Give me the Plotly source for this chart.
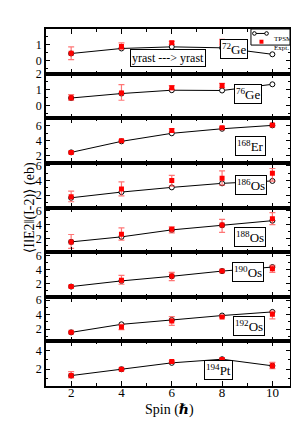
import plotly.graph_objects as go
from plotly.subplots import make_subplots

spin = [2, 4, 6, 8, 10]

labels = ["<sup>72</sup>Ge", "<sup>76</sup>Ge", "<sup>168</sup>Er", "<sup>186</sup>Os",
          "<sup>188</sup>Os", "<sup>190</sup>Os", "<sup>192</sup>Os", "<sup>194</sup>Pt"]

# TPSM values
tpsm_72ge = [0.44, 0.75, 0.85, 0.79, 0.39]
tpsm_76ge = [0.47, 0.75, 0.96, 0.94, 1.33]
tpsm_168er = [2.45, 3.92, 4.99, 5.60, 6.05]
tpsm_186os = [1.63, 2.41, 3.05, 3.60, 3.93]
tpsm_188os = [1.57, 2.29, 3.29, 3.95, 4.61]
tpsm_190os = [1.57, 2.39, 3.06, 3.81, 4.39]
tpsm_192os = [1.54, 2.65, 3.25, 3.86, 4.36]
tpsm_194pt = [1.32, 2.00, 2.69, 3.08, 2.37]

# Experimental values with upper / lower errors
expt_72ge = [0.45, 0.87, 1.10, 1.14, None]
errp_72ge = [0.40, 0.23, 0.09, 0.17, None]
errm_72ge = [0.39, 0.18, 0.10, 0.18, None]

expt_76ge = [0.48, 0.79, 1.12, 1.25, None]
errp_76ge = [0.21, 0.52, 0.13, 0.14, None]
errm_76ge = [0.15, 0.46, 0.12, 0.15, None]

expt_168er = [2.45, 4.00, 5.38, 5.73, 6.09]
errp_168er = [0.10, 0.12, 0.22, 0.15, 0.18]
errm_168er = [0.10, 0.12, 0.22, 0.15, 0.22]

expt_186os = [1.78, 2.82, 4.00, 4.31, 4.99]
errp_186os = [0.76, 0.98, 0.68, 1.00, 0.64]
errm_186os = [0.69, 0.92, 0.78, 0.95, 1.09]

expt_188os = [1.57, 2.67, 3.37, 4.00, 4.90]
errp_188os = [1.06, 0.90, 0.34, 0.80, 0.86]
errm_188os = [0.94, 0.86, 0.51, 1.06, 0.86]

expt_190os = [1.60, 2.49, 3.10, 3.81, 4.14]
errp_190os = [0.08, 0.71, 0.53, 0.10, 0.49]
errm_190os = [0.08, 0.58, 0.67, 0.10, 0.51]

expt_192os = [1.55, 2.28, 3.11, 3.67, 4.04]
errp_192os = [0.08, 0.37, 0.61, 0.10, 0.42]
errm_192os = [0.08, 0.36, 0.60, 0.10, 0.65]

expt_194pt = [1.32, 2.00, 2.83, 3.04, 2.37]
errp_194pt = [0.43, 0.15, 0.10, 0.08, 0.38]
errm_194pt = [0.24, 0.15, 0.10, 0.08, 0.29]

tpsm_all = [tpsm_72ge, tpsm_76ge, tpsm_168er, tpsm_186os, tpsm_188os, tpsm_190os, tpsm_192os, tpsm_194pt]
expt_all = [expt_72ge, expt_76ge, expt_168er, expt_186os, expt_188os, expt_190os, expt_192os, expt_194pt]
errp_all = [errp_72ge, errp_76ge, errp_168er, errp_186os, errp_188os, errp_190os, errp_192os, errp_194pt]
errm_all = [errm_72ge, errm_76ge, errm_168er, errm_186os, errm_188os, errm_190os, errm_192os, errm_194pt]

yranges = [[-0.8, 1.95], [-0.8, 2.0], [1.05, 7.0], [0.3, 6.4],
           [0.1, 6.5], [0.1, 6.55], [0.3, 6.45], [0.2, 5.0]]
ydticks = [1, 1, 2, 2, 2, 2, 2, 2]
label_pos = [(8.48, 0.32), (9.04, 0.32), (9.13, 0.38), (9.15, 0.28),
             (9.1, 0.34), (9.05, 0.32), (9.07, 0.34), (7.87, 0.35)]

FONT = "Liberation Serif, DejaVu Serif, DejaVu Sans"
n = 8
fig = make_subplots(rows=n, cols=1, shared_xaxes=True, vertical_spacing=0)

for i in range(n):
    r = i + 1
    fig.add_trace(go.Scatter(
        x=spin, y=tpsm_all[i], mode="lines+markers",
        line=dict(color="black", width=1),
        marker=dict(symbol="circle", size=5, color="white", line=dict(color="black", width=1)),
        showlegend=False, cliponaxis=False), row=r, col=1)
    fig.add_trace(go.Scatter(
        x=spin, y=expt_all[i], mode="markers",
        marker=dict(symbol="square", size=5, color="red"),
        error_y=dict(type="data", symmetric=False, array=errp_all[i], arrayminus=errm_all[i],
                     color="rgba(255,60,60,0.7)", thickness=1.2, width=3),
        showlegend=False), row=r, col=1)

    fig.update_yaxes(row=r, col=1, range=yranges[i], dtick=ydticks[i], tick0=0,
                     ticks="inside", ticklen=4, tickwidth=1, tickcolor="black",
                     minor=dict(ticks="inside", ticklen=2, dtick=ydticks[i] / 2, tickcolor="black"),
                     showline=True, linecolor="black", linewidth=1.5, mirror="allticks",
                     showgrid=False, zeroline=False,
                     tickfont=dict(family=FONT, size=12, color="black"))
    fig.update_xaxes(row=r, col=1, range=[1, 10.7], dtick=2, tick0=0,
                     ticks="inside", ticklen=5, tickwidth=1, tickcolor="black",
                     minor=dict(ticks="inside", ticklen=3, dtick=1, tickcolor="black"),
                     showline=True, linecolor="black", linewidth=1.5, mirror="allticks",
                     showgrid=False, zeroline=False, ticklabelstandoff=-6,
                     tickfont=dict(family=FONT, size=13, color="black"))

    xr = "x" if r == 1 else f"x{r}"
    yr = "y" if r == 1 else f"y{r}"
    lx, ly = label_pos[i]
    fig.add_annotation(x=lx, y=ly, xref=xr, yref=f"{yr} domain", text=labels[i],
                       showarrow=False, font=dict(family=FONT, size=13, color="black"),
                       bordercolor="black", borderwidth=1, borderpad=1, bgcolor="white")

# yrast label in top panel
fig.add_annotation(x=5.86, y=0.36, xref="x", yref="y domain", text="yrast ---> yrast",
                   showarrow=False, font=dict(family=FONT, size=12, color="black"),
                   bordercolor="black", borderwidth=1, borderpad=1, bgcolor="white")

# custom legend in top panel
fig.add_shape(type="rect", xref="x domain", yref="y domain", x0=0.84, x1=1.0, y0=0.64, y1=1.0,
              line=dict(color="black", width=1), fillcolor="white", layer="above")
fig.add_shape(type="line", xref="x domain", yref="y domain", x0=0.854, x1=0.904, y0=0.90, y1=0.90,
              line=dict(color="black", width=1), layer="above")
for cx in (0.854, 0.904):
    fig.add_shape(type="circle", xref="x domain", yref="y domain", xsizemode="pixel", ysizemode="pixel",
                  xanchor=cx, yanchor=0.90, x0=-1.8, x1=1.8, y0=-1.8, y1=1.8,
                  line=dict(color="black", width=1), fillcolor="white", layer="above")
fig.add_shape(type="rect", xref="x domain", yref="y domain", xsizemode="pixel", ysizemode="pixel",
              xanchor=0.883, yanchor=0.715, x0=-2, x1=2, y0=-2, y1=2,
              line=dict(color="red", width=0), fillcolor="red", layer="above")
fig.add_annotation(x=0.925, y=0.90, xref="x domain", yref="y domain", text="TPSM", showarrow=False,
                   xanchor="left", font=dict(family=FONT, size=7, color="black"))
fig.add_annotation(x=0.925, y=0.715, xref="x domain", yref="y domain", text="Expt.", showarrow=False,
                   xanchor="left", font=dict(family=FONT, size=7, color="black"))

# axis titles
fig.add_annotation(x=-0.108, y=0.5, xref="paper", yref="paper",
                   text="\u27e8I\u2016E2\u2016(I-2)\u27e9 (eb)", textangle=-90, showarrow=False,
                   font=dict(family=FONT, size=14, color="black"))
fig.add_annotation(x=0.505, y=-0.04, xref="paper", yref="paper", yanchor="top",
                   text="Spin (<b><i>\u210f</i></b>)", showarrow=False,
                   font=dict(family=FONT, size=14, color="black"))

# page body has an 8px margin: size the figure so the plot area lands where it should
fig.update_layout(width=291, height=415, autosize=False,
                  margin=dict(l=38, r=7, t=21, b=37),
                  plot_bgcolor="white", paper_bgcolor="white", showlegend=False)

fig.write_html("out.html")
